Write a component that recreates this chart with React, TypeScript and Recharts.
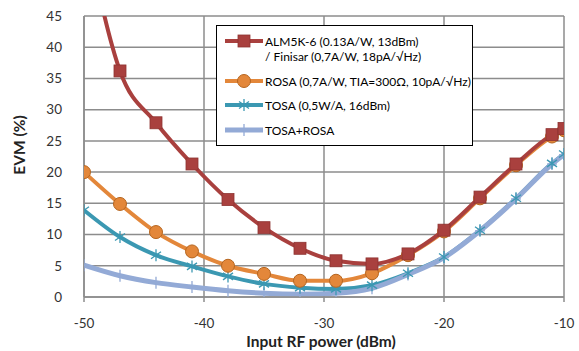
import React from "react";
import {
  LineChart,
  Line,
  XAxis,
  YAxis,
  CartesianGrid,
  Legend,
  Label,
} from "recharts";

// input power (dBm) and EVM (%)
const powers = [-50, -47, -44, -41, -38, -35, -32, -29, -26, -23, -20, -17, -14, -11, -10];
const alm = [60, 36.2, 27.9, 21.3, 15.6, 11.1, 7.8, 5.8, 5.3, 6.9, 10.7, 16.0, 21.3, 26.0, 27.0];
const rosa = [20.0, 14.9, 10.4, 7.3, 5.0, 3.7, 2.6, 2.6, 3.8, 6.7, 10.5, 15.8, 21.1, 25.7, 26.7];
const tosa = [13.9, 9.6, 6.7, 4.9, 3.3, 2.1, 1.5, 1.3, 1.9, 3.8, 6.4, 10.7, 15.8, 21.4, 22.9];
const tosaRosa = [5.1, 3.4, 2.3, 1.6, 1.0, 0.6, 0.45, 0.6, 1.4, 3.6, 6.3, 10.6, 15.7, 21.3, 22.8];

const xTicks = [-50, -40, -30, -20, -10];
const yTicks = [0, 5, 10, 15, 20, 25, 30, 35, 40, 45];

const RED = "#A9403E";
const ORANGE = "#E3873A";
const TEAL = "#3B98B2";
const LIGHT = "#93AAD6";
const GRID = "#8C8C8C";
const FONT = "Lato, 'Open Sans', sans-serif";

const data = powers.map((x, i) => ({
  x,
  alm: alm[i],
  rosa: rosa[i],
  tosa: tosa[i],
  tosaRosa: tosaRosa[i],
}));

const Square = (p: any) =>
  p.cx == null || p.cy == null ? null : (
    <rect key={p.key} x={p.cx - 6} y={p.cy - 6} width={12} height={12} fill={RED} stroke="#8E3331" strokeWidth={0.8} />
  );

const Circle = (p: any) =>
  p.cx == null || p.cy == null ? null : (
    <circle key={p.key} cx={p.cx} cy={p.cy} r={6.5} fill={ORANGE} stroke="#B5651F" strokeWidth={1} />
  );

const Star = (p: any) =>
  p.cx == null || p.cy == null ? null : (
    <g key={p.key} stroke={TEAL} strokeWidth={1.3}>
      <line x1={p.cx} y1={p.cy - 6} x2={p.cx} y2={p.cy + 6} />
      <line x1={p.cx - 5} y1={p.cy - 3.5} x2={p.cx + 5} y2={p.cy + 3.5} />
      <line x1={p.cx - 5} y1={p.cy + 3.5} x2={p.cx + 5} y2={p.cy - 3.5} />
    </g>
  );

const Plus = (p: any) =>
  p.cx == null || p.cy == null ? null : (
    <g key={p.key} stroke={LIGHT} strokeWidth={1.3}>
      <line x1={p.cx} y1={p.cy - 6} x2={p.cx} y2={p.cy + 6} />
      <line x1={p.cx - 5} y1={p.cy} x2={p.cx + 5} y2={p.cy} />
    </g>
  );

const legendRows = [
  { lines: ["ALM5K-6 (0.13A/W, 13dBm)", "/ Finisar (0,7A/W, 18pA/\u221AHz)"], color: RED, Mark: Square, top: 16, width: 4 },
  { lines: ["ROSA (0,7A/W, TIA=300\u03A9, 10pA/\u221AHz)"], color: ORANGE, Mark: Circle, top: 56, width: 4 },
  { lines: ["TOSA (0,5W/A, 16dBm)"], color: TEAL, Mark: Star, top: 80, width: 4 },
  { lines: ["TOSA+ROSA"], color: LIGHT, Mark: Plus, top: 105, width: 5 },
];

function ChartLegend() {
  return (
    <div
      style={{
        position: "relative",
        width: 257,
        height: 121,
        boxSizing: "border-box",
        border: "1px solid #000",
        background: "#fff",
        fontFamily: FONT,
        fontSize: 12,
        color: "#000",
      }}
    >
      {legendRows.map((r, i) => (
        <div key={i}>
          <svg width={40} height={14} style={{ position: "absolute", left: 7, top: r.top - 8 }}>
            <line x1={1} y1={7} x2={39} y2={7} stroke={r.color} strokeWidth={r.width} />
            <r.Mark cx={20} cy={7} />
          </svg>
          {r.lines.map((t, j) => (
            <div
              key={j}
              style={{
                position: "absolute",
                left: 48,
                top: r.top - 8 + j * 15,
                lineHeight: "15px",
                whiteSpace: "nowrap",
              }}
            >
              {t}
            </div>
          ))}
        </div>
      ))}
    </div>
  );
}

export default function App() {
  return (
    <div style={{ position: "absolute", left: 0, top: 0, background: "#fff" }}>
      <LineChart width={579} height={351} data={data} margin={{ top: 16, right: 15, bottom: 0, left: 0 }}>
        <CartesianGrid stroke={GRID} strokeWidth={1.5} />
        <XAxis
          type="number"
          dataKey="x"
          domain={[-50, -10]}
          ticks={xTicks}
          allowDataOverflow
          height={54}
          tickSize={5}
          tickMargin={16}
          axisLine={{ stroke: GRID, strokeWidth: 1.5 }}
          tickLine={{ stroke: GRID, strokeWidth: 1.5 }}
          tick={{ fill: "#333", fontSize: 13.5, fontFamily: FONT }}
        >
          <Label
            content={() => (
              <text x={321} y={347} textAnchor="middle" fontFamily={FONT} fontWeight="bold" fontSize={15.5} fill="#222">
                Input RF power (dBm)
              </text>
            )}
          />
        </XAxis>
        <YAxis
          type="number"
          domain={[0, 45]}
          ticks={yTicks}
          allowDataOverflow
          width={84}
          tickSize={0}
          tickMargin={22}
          axisLine={{ stroke: GRID, strokeWidth: 1.5 }}
          tickLine={false}
          tick={{ fill: "#333", fontSize: 13.5, fontFamily: FONT }}
        >
          <Label
            content={() => (
              <text
                x={25}
                y={145}
                transform="rotate(-90 25 145)"
                textAnchor="middle"
                fontFamily={FONT}
                fontWeight="bold"
                fontSize={15.5}
                fill="#222"
              >
                EVM (%)
              </text>
            )}
          />
        </YAxis>
        <Legend
          layout="vertical"
          align="center"
          verticalAlign="middle"
          wrapperStyle={{ left: 216, top: 25, width: 257, height: 121 }}
          content={() => <ChartLegend />}
        />
        <Line type="monotone" dataKey="tosa" stroke={TEAL} strokeWidth={4} dot={false} isAnimationActive={false} />
        <Line type="monotone" dataKey="tosaRosa" stroke={LIGHT} strokeWidth={5} dot={Plus} isAnimationActive={false} />
        <Line type="monotone" dataKey="tosa" stroke="none" dot={Star} legendType="none" isAnimationActive={false} />
        <Line type="monotone" dataKey="rosa" stroke={ORANGE} strokeWidth={4} dot={Circle} isAnimationActive={false} />
        <Line type="monotone" dataKey="alm" stroke={RED} strokeWidth={4} dot={Square} isAnimationActive={false} />
      </LineChart>
    </div>
  );
}
